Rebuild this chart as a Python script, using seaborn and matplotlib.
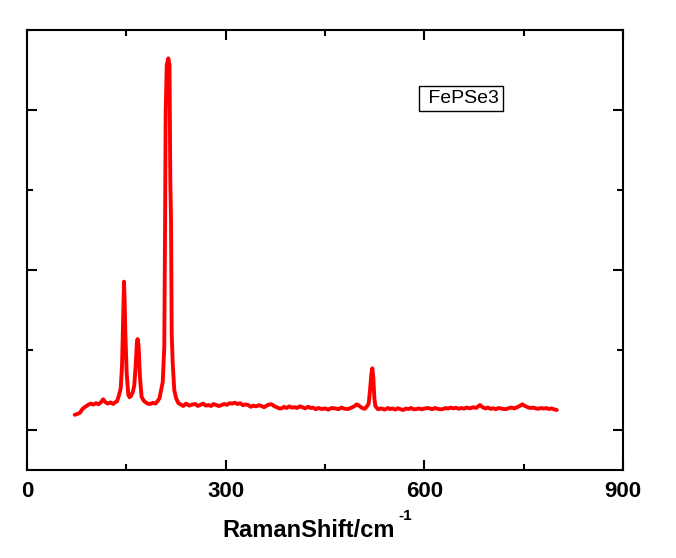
import matplotlib
matplotlib.use("Agg")
import matplotlib.pyplot as plt
from matplotlib.ticker import MultipleLocator
import seaborn as sns
import pandas as pd

# Raman shift (cm^-1) and intensity (a.u.)
shift = [72, 76, 80, 84, 88, 92, 96, 100, 104, 108, 112, 115, 118, 122, 126, 130, 133, 136,
         139, 141.5, 143.5, 145, 146.5, 147.5, 148.5, 150.5, 153, 155, 157, 160, 162, 164, 166,
         167, 168.5, 170.5, 173, 176, 178, 182, 186, 190, 194, 197, 200, 203, 205, 206, 207.3,
         208.4, 209.4, 211, 213.4, 215.2, 216.4, 217.5, 218.5, 220, 222.4, 225, 228.5, 232,
         236, 240, 245, 250, 254, 258, 262, 266, 270, 274, 278, 282, 286, 290, 294, 298, 302,
         306, 310, 314, 318, 322, 326, 330, 334, 338, 342, 346, 350, 354, 358, 362, 366, 369.5,
         373, 377, 381, 384.6, 388, 392, 396, 400, 404.7, 408, 412, 416, 420, 424.8, 428, 432,
         436, 440, 445, 450, 455, 460, 465, 470, 475, 480, 485, 490, 494, 498, 502, 506, 510,
         513, 516, 518, 520, 521.4, 523, 524.5, 526, 530, 535, 540, 545, 548, 552, 556, 560,
         564, 568, 572, 576, 580, 584, 588, 592, 596, 600, 604, 608, 612, 616, 620, 624, 628,
         632, 636, 640, 644, 648, 652, 656, 660, 664, 669, 674, 678, 682, 684, 688, 692, 696,
         700, 704, 708, 712, 716, 720, 724, 728, 732, 736, 740, 744, 748, 752, 756, 760, 764,
         768, 772, 776, 780, 784, 788, 792, 796, 800]
intensity = [190, 200, 216, 265, 290, 312, 330, 318, 335, 322, 350, 384, 350, 330, 345, 325, 345, 360,
             437, 521, 800, 1300, 1854, 1600, 1212, 709, 437, 410, 425, 480, 560, 791, 1100,
             1137, 1050, 666, 416, 370, 354, 330, 325, 340, 330, 360, 396, 521, 600, 791, 1041,
             2416, 3959, 4560, 4646, 4560, 3125, 2625, 1212, 837, 500, 400, 337, 320,
             300, 330, 305, 320, 325, 300, 315, 330, 305, 312, 300, 325, 310, 300, 312, 325, 315,
             335, 330, 341, 325, 335, 310, 320, 312, 290, 305, 295, 310, 300, 285, 305, 320, 321,
             300, 285, 270, 271, 290, 275, 295, 280, 284, 275, 295, 285, 270, 291, 275, 280,
             260, 275, 262, 270, 255, 275, 271, 260, 280, 265, 262, 280, 295, 321, 300, 275, 265,
             291, 330, 500, 700, 771, 650, 400, 300, 259, 270, 255, 275, 262, 270, 255, 272,
             260, 250, 268, 262, 275, 258, 262, 270, 258, 268, 275, 271, 260, 275, 265, 258, 262,
             275, 268, 280, 270, 279, 265, 275, 268, 280, 271, 285, 275, 300, 312, 285, 270, 280,
             265, 271, 260, 275, 268, 262, 262, 275, 280, 270, 285, 300, 321, 300, 285, 275, 280,
             271, 265, 275, 268, 275, 262, 270, 258, 250]

x_ticks = [0, 300, 600, 900]
sample_label = "FePSe3"
x_title = "RamanShift/cm"
x_title_sup = "-1"

df = pd.DataFrame({"shift": shift, "intensity": intensity})

sns.set_style("ticks")
plt.rcParams["font.family"] = ["Liberation Sans", "DejaVu Sans"]
plt.rcParams["text.color"] = "black"
plt.rcParams["xtick.color"] = "black"
plt.rcParams["ytick.color"] = "black"
plt.rcParams["axes.labelcolor"] = "black"

fig = plt.figure(figsize=(6.76, 5.58), dpi=100)
ax = fig.add_axes([27 / 676, 88 / 558, 596 / 676, 440 / 558])

sns.lineplot(data=df, x="shift", y="intensity", ax=ax, color="#ff0000",
             linewidth=2.8, sort=False, estimator=None)

ax.set_xlim(0, 900)
ax.set_ylim(-500, 5000)
ax.set_xticks(x_ticks)
ax.set_xticklabels([str(t) for t in x_ticks], fontsize=16, fontweight="bold", color="black")
ax.xaxis.set_minor_locator(MultipleLocator(150))
ax.yaxis.set_major_locator(MultipleLocator(2000))
ax.yaxis.set_minor_locator(MultipleLocator(1000))

ax.tick_params(which="both", direction="in", top=True, right=True, width=1.5,
               labelleft=False, color="black", labelcolor="black")
ax.tick_params(which="major", length=7, pad=8)
ax.tick_params(which="minor", length=4)
for sp in ax.spines.values():
    sp.set_linewidth(1.5)
    sp.set_color("black")

ax.set_ylabel("")
ax.set_xlabel("")
fig.text(222.7 / 676, (558 - 536.7) / 558, x_title, fontsize=17, fontweight="bold",
         ha="left", va="baseline", color="black")
fig.text(398 / 676, (558 - 520) / 558, x_title_sup, fontsize=11, fontweight="bold",
         ha="left", va="baseline", color="black")

ax.text(0.728, 0.844, " " + sample_label, transform=ax.transAxes, fontsize=14,
        ha="center", va="center", color="black",
        bbox=dict(boxstyle="square,pad=0.2", facecolor="white", edgecolor="black",
                  linewidth=1))

fig.savefig("out.png", dpi=100)
